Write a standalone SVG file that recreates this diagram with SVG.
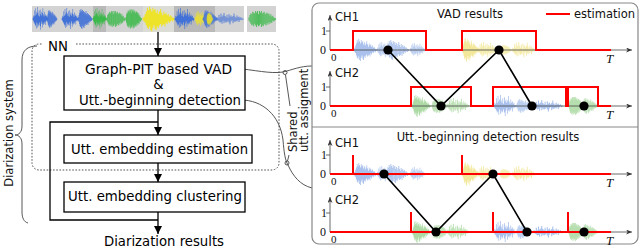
<svg xmlns="http://www.w3.org/2000/svg" xmlns:xlink="http://www.w3.org/1999/xlink" width="640" height="250" viewBox="0 0 640 250">
<style>
.bt{font-family:"DejaVu Sans",Verdana,sans-serif;font-size:13.3px;fill:#000}
.pt{font-family:"DejaVu Sans",Verdana,sans-serif;font-size:11.5px;fill:#111}
.sr{font-family:"Liberation Serif","Times New Roman",serif;font-size:12px;fill:#111}
.srs{font-family:"Liberation Serif","Times New Roman",serif;font-size:11px;fill:#111}
.ti{font-family:"Liberation Serif","Times New Roman",serif;font-size:13px;font-style:italic;fill:#111}
.box{fill:#fff;stroke:#000;stroke-width:1.3}
.flow{fill:none;stroke:#000;stroke-width:1.3}
.lead{fill:none;stroke:#444;stroke-width:0.9}
.dash{fill:none;stroke:#555;stroke-width:1;stroke-dasharray:1.6 1.6}
.axis{fill:none;stroke:#444;stroke-width:0.8}
.red{fill:none;stroke:#ff0000;stroke-width:2}
.blk{fill:none;stroke:#000;stroke-width:1.6}
.dot{fill:#000}
.bg1{fill:#d3d3d3}
.bg2{fill:#b9b9b9}
</style>
<defs>
<marker id="ah" viewBox="0 0 10 10" refX="10" refY="5" markerWidth="8" markerHeight="8" markerUnits="userSpaceOnUse" orient="auto" preserveAspectRatio="none"><path d="M0,0 L10,5 L0,10 z" fill="#000"/></marker>
<marker id="ax" viewBox="0 0 10 10" refX="10" refY="5" markerWidth="6" markerHeight="5" markerUnits="userSpaceOnUse" orient="auto" preserveAspectRatio="none"><path d="M0,0 L10,5 L0,10 L3,5 z" fill="#333"/></marker>
<path id="bA" fill="none" d="M0-1V1M1-2V2M2-4V3M3-6V5M4-9V7M5-7V8M6-10V6M7-8V9M8-6V10M9-9V7M10-7V5M11-8V8M12-5V9M13-7V6M14-4V7M15-6V5M16-8V4M17-5V6M18-3V5M19-6V4M20-4V6M21-5V3M22-3V4M23-4V2M24-2V3M25-3V2M26-2V1M27-1V2M28-1V1"/>
<path id="bB" fill="none" d="M0-2V2M1-5V4M2-7V6M3-6V8M4-9V7M5-8V9M6-7V6M7-10V8M8-8V10M9-10V7M10-6V9M11-10V8M12-8V6M13-10V10M14-7V8M15-8V9M16-9V6M17-6V7M18-7V8M19-8V5M20-6V7M21-7V4M22-4V6M23-6V4M24-3V5M25-4V2M26-2V3M27-1V2M28-1V1"/>
<path id="bC" fill="none" d="M0-1V1M1-3V2M2-2V3M3-7V4M4-3V6M5-9V5M6-4V8M7-6V3M8-10V7M9-5V4M10-3V6M11-7V5M12-2V3M13-8V6M14-4V9M15-6V4M16-3V2M17-5V7M18-9V4M19-4V5M20-2V3M21-6V4M22-3V2M23-4V5M24-2V2M25-3V1M26-1V2M27-1V1"/>
<g id="wf1">
<use href="#bA" stroke="#a9c1ec" transform="translate(354,0) scale(0.8,1.1)"/>
<use href="#bC" stroke="#a9c1ec" transform="translate(377,0) scale(0.6,0.8)"/>
<use href="#bA" stroke="#a9c1ec" transform="translate(386,0) scale(0.8,1)"/>
<use href="#bC" stroke="#a9c1ec" transform="translate(410,0) scale(0.55,0.7)"/>
<use href="#bA" stroke="#f3e89a" transform="translate(462,0) scale(0.6,1.2)"/>
<use href="#bC" stroke="#f3e89a" transform="translate(478,0) scale(0.7,0.8)"/>
<use href="#bB" stroke="#f3e89a" transform="translate(500,0) scale(0.4,0.5)"/>
<use href="#bC" stroke="#f3e89a" transform="translate(512,0) scale(0.85,0.8)"/>
</g>
<g id="wf2">
<use href="#bA" stroke="#addaa5" transform="translate(412,0) scale(0.65,1.1)"/>
<use href="#bB" stroke="#addaa5" transform="translate(432,0) scale(0.55,0.7)"/>
<use href="#bC" stroke="#addaa5" transform="translate(447,0) scale(0.8,0.8)"/>
<use href="#bC" stroke="#a9c1ec" transform="translate(494,0) scale(0.8,1.1)"/>
<use href="#bA" stroke="#a9c1ec" transform="translate(516,0) scale(0.6,0.7)"/>
<use href="#bC" stroke="#a9c1ec" transform="translate(533,0) scale(1.1,0.6)"/>
<use href="#bB" stroke="#addaa5" transform="translate(569,0) scale(0.5,0.9)"/>
<use href="#bA" stroke="#addaa5" transform="translate(582,0) scale(0.55,0.8)"/>
</g>
</defs>
<rect x="0" y="0" width="640" height="250" fill="#fff"/>

<g id="input-waveform">
<rect class="bg1" x="32" y="6" width="61" height="26"/>
<rect class="bg2" x="93" y="6" width="13" height="26"/>
<rect class="bg1" x="106" y="6" width="37" height="26"/>
<rect fill="#dcdcd6" x="143" y="6" width="31" height="26"/>
<rect class="bg2" x="174" y="6" width="41" height="26"/>
<rect class="bg1" x="215" y="6" width="29" height="26"/>
<rect class="bg1" x="247" y="6" width="29" height="26"/>
<use href="#bC" stroke="#4272d7" transform="translate(33,19) scale(0.55,1.2)"/>
<use href="#bA" stroke="#4272d7" transform="translate(47,19) scale(0.35,0.9)"/>
<use href="#bC" stroke="#4272d7" transform="translate(62,19) scale(0.6,1.1)"/>
<use href="#bA" stroke="#4272d7" transform="translate(78,19) scale(0.5,1)"/>
<use href="#bC" stroke="#3cb94a" transform="translate(93,19) scale(0.5,1.1)"/>
<use href="#bB" stroke="#3cb94a" transform="translate(107,19) scale(0.65,0.8)"/>
<use href="#bB" stroke="#3cb94a" transform="translate(126,19) scale(0.55,0.95)"/>
<use href="#bA" stroke="#eee32b" transform="translate(143,19) scale(1.1,1.25)"/>
<use href="#bC" stroke="#4272d7" transform="translate(175,19) scale(0.7,1.1)"/>
<use href="#bC" stroke="#eee32b" transform="translate(195,19) scale(0.4,0.8)"/>
<use href="#bA" stroke="#4272d7" transform="translate(203,19) scale(0.5,0.9)"/>
<use href="#bB" stroke="#eee32b" transform="translate(207,19) scale(0.2,0.6)"/>
<use href="#bC" stroke="#4272d7" transform="translate(216,19) scale(1,0.6)"/>
<use href="#bB" stroke="#3cb94a" transform="translate(249,19) scale(0.95,0.8)"/>
</g>

<g id="nn-box">
<path class="dash" d="M76,44 H272 A7,7 0 0 1 279,51 V163 A7,7 0 0 1 272,170 H39 A7,7 0 0 1 32,163 V51 A7,7 0 0 1 39,44 H43"/>
<text class="bt" x="48" y="51">NN</text>
</g>

<g id="diarization-system">
<path class="lead" d="M37,46 C28,46 22,50 22,60 L22,126 C22,132 19,135 15,135 C19,135 22,138 22,144 L22,212 C22,218 24,222 28,223"/>
<text class="pt" text-anchor="middle" transform="translate(13,133) rotate(-90)">Diarization system</text>
</g>

<g id="connectors">
<line class="flow" x1="158" y1="32" x2="158" y2="56" marker-end="url(#ah)"/>
<line class="flow" x1="158" y1="110" x2="158" y2="135" marker-end="url(#ah)"/>
<polyline class="flow" points="158,122 50,122 50,220 158,220"/>
<line class="flow" x1="158" y1="163" x2="158" y2="182" marker-end="url(#ah)"/>
<line class="flow" x1="158" y1="212" x2="158" y2="234" marker-end="url(#ah)"/>
<path class="lead" d="M234,68 C255,70 270,74 283,72 C292,70 300,66 312,66"/>
<path class="lead" d="M241,100 C262,100 280,115 283,140 C284,152 285,160 288,165 C293,176 300,185 312,188"/>
<circle class="lead" cx="285" cy="72.5" r="2"/>
<circle class="lead" cx="287" cy="163" r="2"/>
<line class="lead" x1="285.5" y1="75" x2="290" y2="106"/>
<line class="lead" x1="289" y1="155" x2="287.5" y2="161"/>
</g>

<g id="node-vad">
<rect class="box" x="64" y="56" width="181" height="54"/>
<text class="bt" x="158.5" y="74" text-anchor="middle" textLength="147" lengthAdjust="spacingAndGlyphs">Graph-PIT based VAD</text>
<text class="bt" x="158.5" y="89" text-anchor="middle">&amp;</text>
<text class="bt" x="160" y="105" text-anchor="middle" textLength="162" lengthAdjust="spacingAndGlyphs">Utt.-beginning detection</text>
</g>

<g id="node-emb-est">
<rect class="box" x="64" y="135" width="188" height="28"/>
<text class="bt" x="159.5" y="154" text-anchor="middle" textLength="177" lengthAdjust="spacingAndGlyphs">Utt. embedding estimation</text>
</g>

<g id="node-emb-clust">
<rect class="box" x="64" y="182" width="181" height="30"/>
<text class="bt" x="155" y="201" text-anchor="middle" textLength="174" lengthAdjust="spacingAndGlyphs">Utt. embedding clustering</text>
</g>

<g id="output">
<text class="bt" x="164" y="246" text-anchor="middle" textLength="120" lengthAdjust="spacingAndGlyphs">Diarization results</text>
</g>

<g id="shared-label">
<text class="pt" transform="translate(297,152) rotate(-90)">Shared</text>
<text class="pt" transform="translate(308,152) rotate(-90)">utt. assigment</text>
</g>

<g id="results-panel">
<rect x="312" y="3" width="326" height="241" rx="7" fill="#fff" stroke="#888" stroke-width="1.2"/>
<line x1="312" y1="127" x2="638" y2="127" stroke="#888" stroke-width="1.2"/>
</g>

<g id="panel-vad">
<use href="#wf1" transform="translate(0,50)"/>
<use href="#wf2" transform="translate(0,106)"/>
<text class="pt" x="470" y="18" text-anchor="middle">VAD results</text>
<line class="red" x1="546" y1="14" x2="570" y2="14"/>
<text class="pt" x="574" y="18">estimation</text>
<line class="axis" x1="330" y1="50" x2="330" y2="15" marker-end="url(#ax)"/>
<line class="axis" x1="330" y1="50" x2="632" y2="50" marker-end="url(#ax)"/>
<line class="axis" x1="326" y1="31" x2="330" y2="31"/>
<text class="sr" x="321" y="35">1</text>
<text class="sr" x="320" y="54">0</text>
<text class="srs" x="331" y="61">0</text>
<text class="ti" x="606" y="63">T</text>
<text class="pt" x="335" y="21">CH1</text>
<line class="axis" x1="330" y1="106" x2="330" y2="71" marker-end="url(#ax)"/>
<line class="axis" x1="330" y1="106" x2="632" y2="106" marker-end="url(#ax)"/>
<line class="axis" x1="326" y1="87" x2="330" y2="87"/>
<text class="sr" x="321" y="91">1</text>
<text class="sr" x="320" y="110">0</text>
<text class="srs" x="331" y="117">0</text>
<text class="ti" x="606" y="119">T</text>
<text class="pt" x="335" y="77">CH2</text>
<path class="red" d="M330,50 H353 V31 H426 V50 H462 V31 H536 V50 H611"/>
<path class="red" d="M330,106 H411 V87 H471 V106 H493 V87 H566 V106 H568 V87 H598 V106 H611"/>
<polyline class="blk" points="388,50 441,106 499,50 532,106"/>
<circle class="dot" cx="388" cy="50" r="4.6"/>
<circle class="dot" cx="441" cy="106" r="4.6"/>
<circle class="dot" cx="499" cy="50" r="4.6"/>
<circle class="dot" cx="532" cy="106" r="4.6"/>
<circle class="dot" cx="584" cy="106" r="4.6"/>
</g>

<g id="panel-utt-beginning">
<use href="#wf1" transform="translate(0,174)"/>
<use href="#wf2" transform="translate(0,232)"/>
<text class="pt" x="488" y="141" text-anchor="middle">Utt.-beginning detection results</text>
<line class="axis" x1="330" y1="174" x2="330" y2="140" marker-end="url(#ax)"/>
<line class="axis" x1="330" y1="174" x2="632" y2="174" marker-end="url(#ax)"/>
<line class="axis" x1="326" y1="155" x2="330" y2="155"/>
<text class="sr" x="321" y="159">1</text>
<text class="sr" x="320" y="178">0</text>
<text class="srs" x="331" y="185">0</text>
<text class="ti" x="606" y="187">T</text>
<text class="pt" x="335" y="147">CH1</text>
<line class="axis" x1="330" y1="232" x2="330" y2="197" marker-end="url(#ax)"/>
<line class="axis" x1="330" y1="232" x2="632" y2="232" marker-end="url(#ax)"/>
<line class="axis" x1="326" y1="213" x2="330" y2="213"/>
<text class="sr" x="321" y="217">1</text>
<text class="sr" x="320" y="236">0</text>
<text class="srs" x="331" y="243">0</text>
<text class="ti" x="606" y="245">T</text>
<text class="pt" x="335" y="204">CH2</text>
<path class="red" d="M330,174 H611 M353,174 V155 M462,174 V155"/>
<path class="red" d="M330,232 H611 M411,232 V212 M493,232 V212 M568,232 V212"/>
<polyline class="blk" points="384,174 436,232 493,174 527,232"/>
<circle class="dot" cx="384" cy="174" r="4.6"/>
<circle class="dot" cx="436" cy="232" r="4.6"/>
<circle class="dot" cx="493" cy="174" r="4.6"/>
<circle class="dot" cx="527" cy="232" r="4.6"/>
<circle class="dot" cx="584" cy="232" r="4.6"/>
</g>
</svg>
